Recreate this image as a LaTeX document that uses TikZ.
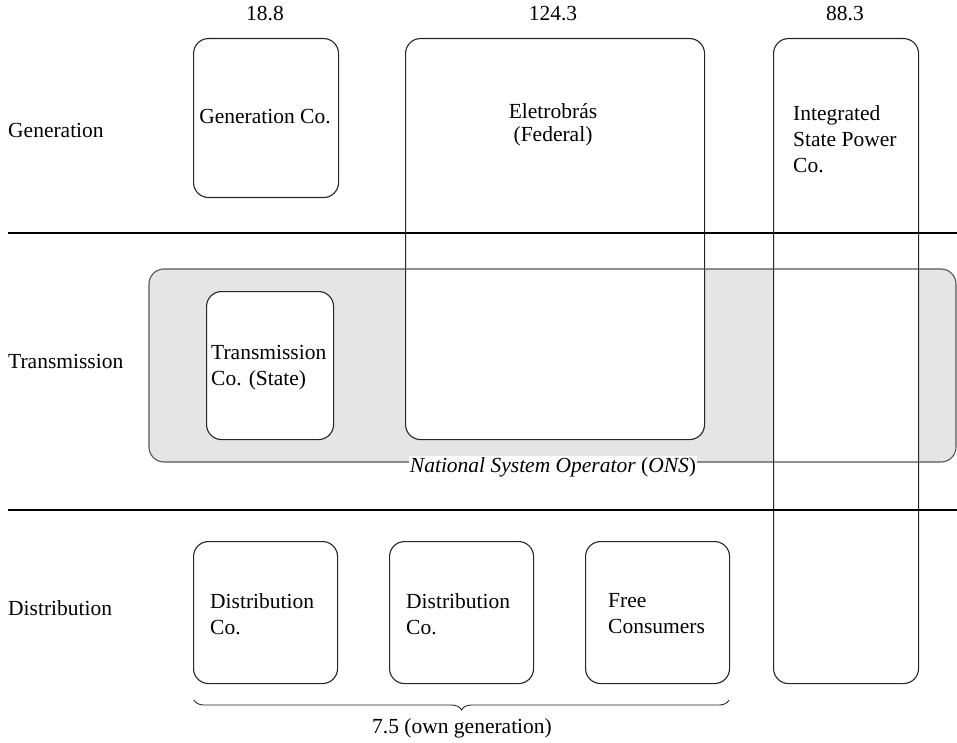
\documentclass[tikz,border=0pt]{standalone}
\usepackage{fontspec}
\setmainfont{Liberation Serif}
\usetikzlibrary{decorations.pathreplacing}
\definecolor{onsgray}{HTML}{E5E5E5}
\definecolor{onsline}{HTML}{555555}
\tikzset{
  x=1pt, y=-1pt,
  box/.style={draw=black!85, line width=1.1pt, rounded corners=15pt, inner sep=0pt, anchor=north west},
  txt/.style={font=\fontsize{21.5}{26}\selectfont, inner sep=0pt},
  rowlabel/.style={txt, anchor=west},
  divider/.style={line width=2.9pt, black},
}
\begin{document}
\begin{tikzpicture}
\useasboundingbox (0,0) rectangle (957,743);
% gray ONS region (fill)
\fill[onsgray, rounded corners=15pt] (149,269) rectangle (956,462);
% boxes
\node[box, fill=white, minimum width=145pt, minimum height=159pt] (gen) at (193,38) {};
\node[box, fill=white, minimum width=299pt, minimum height=401pt] (ele) at (405,38) {};
\node[box, fill=white, minimum width=145pt, minimum height=645pt] (isp) at (773,38) {};
% ONS outline over the white boxes
\draw[onsline, line width=1.1pt, rounded corners=15pt] (149,269) rectangle (956,462);
\node[box, fill=white, minimum width=127pt, minimum height=148pt] (tra) at (206,291) {};
\node[box, fill=white, minimum width=144pt, minimum height=142pt] (dis1) at (193,541) {};
\node[box, fill=white, minimum width=144pt, minimum height=142pt] (dis2) at (389,541) {};
\node[box, fill=white, minimum width=144pt, minimum height=142pt] (free) at (585,541) {};
% dividers
\coordinate (d1l) at (8,233); \coordinate (d1r) at (957,233);
\coordinate (d2l) at (8,510); \coordinate (d2r) at (957,510);
\draw[divider] (d1l) -- (d1r);
\draw[divider] (d2l) -- (d2r);
% box texts
\node[txt] (gent) at (265,117) {Generation Co.};
\node[txt, align=center, font=\fontsize{21.5}{23.5}\selectfont] (elet) at (553,125) {Eletrobrás\\(Federal)};
\node[txt, align=left, anchor=west] (ispt) at (793,139) {Integrated\\State Power\\Co.};
\node[txt, align=left, anchor=west] (trat) at (211,368) {Transmission\\Co. (State)};
\node[txt, align=left, anchor=west] (dis1t) at (210,614) {Distribution\\Co.};
\node[txt, align=left, anchor=west] (dis2t) at (406,614) {Distribution\\Co.};
\node[txt, align=left, anchor=west] (freet) at (608,614) {Free\\Consumers};
% ONS label
\node[txt, fill=white, inner sep=1pt] (ons) at (553,467) {\textit{National System Operator} (\textit{ONS})};
% numbers
\node[txt] (n1) at (265,14) {18.8};
\node[txt] (n2) at (553,14) {124.3};
\node[txt] (n3) at (845,14) {88.3};
% row labels
\node[rowlabel] (rgen) at (8,130) {Generation};
\node[rowlabel] (rtra) at (8,361) {Transmission};
\node[rowlabel] (rdis) at (8,608) {Distribution};
% brace
\coordinate (bl) at (194,700);
\coordinate (br) at (729,700);
\draw[black!85, line width=0.9pt, decoration={brace, mirror, amplitude=10pt}, decorate] (bl) -- (br);
\node[txt] (own) at (462,728) {7.5 (own generation)};
\end{tikzpicture}
\end{document}
